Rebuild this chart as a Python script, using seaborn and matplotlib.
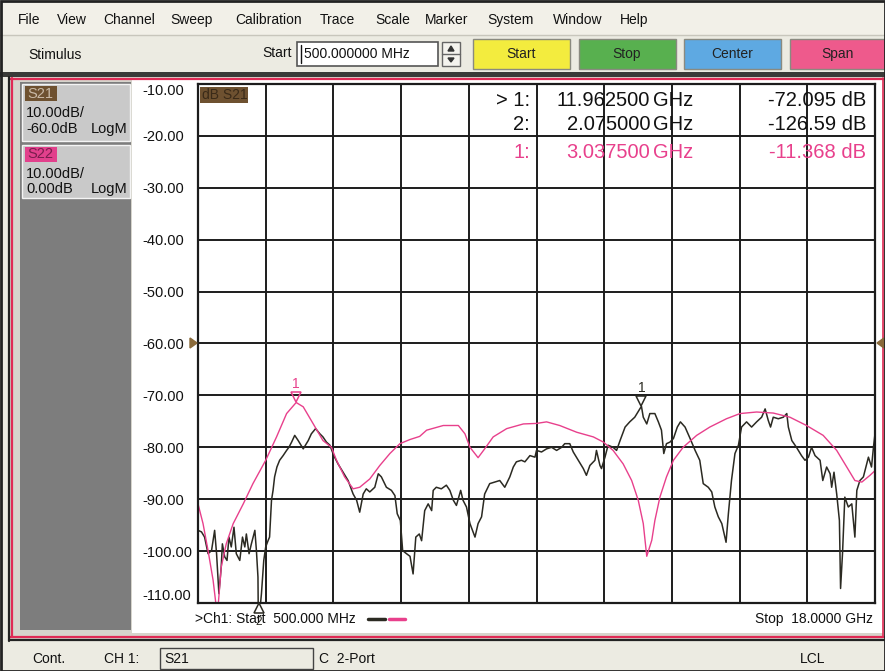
import numpy as np
import pandas as pd
import seaborn as sns
import matplotlib.pyplot as plt
import matplotlib.transforms as mtransforms
from matplotlib.patches import Rectangle, Polygon

# S21 trace (GHz, dB)
s21_freq = [0.50, 0.59, 0.67, 0.76, 0.85, 0.93, 0.98, 1.04, 1.10, 1.13,
            1.19, 1.25, 1.30, 1.36, 1.43, 1.49, 1.58, 1.65, 1.71, 1.75,
            1.82, 1.88, 1.97, 2.01, 2.05, 2.075, 2.10, 2.14, 2.20, 2.25,
            2.31, 2.35, 2.40, 2.44, 2.48, 2.54, 2.61, 2.70, 2.79, 2.85,
            2.92, 3.00, 3.09, 3.22, 3.35, 3.43, 3.54, 3.65, 3.73, 3.82,
            3.91, 4.01, 4.12, 4.25, 4.38, 4.51, 4.60, 4.68, 4.77, 4.85,
            4.94, 5.07, 5.16, 5.24, 5.37, 5.50, 5.59, 5.65, 5.73, 5.79,
            5.89, 5.98, 6.06, 6.13, 6.22, 6.28, 6.36, 6.45, 6.54, 6.58,
            6.66, 6.79, 6.92, 7.01, 7.10, 7.18, 7.29, 7.35, 7.44, 7.53,
            7.66, 7.74, 7.83, 7.91, 8.04, 8.17, 8.30, 8.43, 8.56, 8.65,
            8.73, 8.86, 8.95, 9.08, 9.21, 9.25, 9.38, 9.51, 9.64, 9.77,
            9.90, 9.98, 10.11, 10.20, 10.33, 10.46, 10.54, 10.63, 10.76, 10.80,
            10.89, 10.93, 11.02, 11.10, 11.23, 11.32, 11.41, 11.54, 11.66, 11.79,
            11.9625, 12.01, 12.10, 12.18, 12.31, 12.40, 12.48, 12.54, 12.61, 12.70,
            12.79, 12.89, 12.97, 13.09, 13.22, 13.35, 13.47, 13.56, 13.69, 13.78,
            13.86, 13.95, 14.04, 14.15, 14.21, 14.29, 14.38, 14.47, 14.55, 14.68,
            14.81, 14.94, 15.07, 15.16, 15.24, 15.30, 15.37, 15.50, 15.63, 15.72,
            15.76, 15.85, 15.97, 16.10, 16.19, 16.28, 16.36, 16.45, 16.58, 16.65,
            16.75, 16.84, 16.88, 16.94, 17.01, 17.08, 17.11, 17.16, 17.22, 17.31,
            17.40, 17.48, 17.53, 17.61, 17.70, 17.83, 17.91, 17.96, 18.00]
s21_db = [-96.0, -96.3, -97.3, -100.5, -99.9, -96.0, -100.5, -108.2, -103.1, -98.6,
          -101.1, -101.8, -97.3, -99.2, -95.4, -100.5, -101.8, -97.3, -99.2, -96.7,
          -100.5, -98.6, -96.0, -99.9, -105.0, -126.59, -111.4, -108.2, -101.8, -99.2,
          -98.0, -97.3, -90.2, -88.3, -85.7, -83.8, -82.5, -81.6, -80.6, -80.0,
          -79.0, -77.7, -78.7, -80.3, -78.7, -77.4, -76.4, -77.4, -78.0, -79.0,
          -79.6, -81.6, -83.2, -84.8, -86.4, -89.0, -90.2, -92.5, -89.0, -88.0,
          -88.6, -87.7, -85.1, -85.7, -87.7, -88.3, -89.3, -92.8, -94.1, -99.9,
          -100.5, -101.0, -104.4, -97.3, -96.7, -98.0, -92.2, -90.9, -92.2, -88.3,
          -87.7, -88.0, -87.3, -88.3, -90.2, -91.2, -88.3, -90.2, -91.5, -94.7,
          -97.3, -94.7, -93.4, -89.0, -87.0, -86.7, -86.4, -87.7, -85.7, -83.8,
          -82.8, -82.5, -82.8, -81.6, -81.9, -80.6, -80.9, -80.3, -80.0, -80.6,
          -80.0, -79.3, -79.3, -80.9, -82.5, -84.1, -85.4, -83.5, -82.5, -80.6,
          -83.5, -84.1, -81.9, -79.6, -80.0, -80.6, -78.7, -76.1, -75.1, -74.2,
          -72.095, -74.2, -75.5, -73.5, -73.5, -75.1, -76.7, -81.2, -79.3, -79.0,
          -78.3, -76.1, -75.1, -76.1, -78.3, -80.6, -82.5, -87.0, -87.7, -88.6,
          -91.5, -93.4, -94.7, -98.3, -92.8, -86.4, -81.2, -79.6, -76.1, -75.1,
          -76.1, -75.1, -74.2, -72.6, -74.8, -76.1, -74.2, -74.5, -74.2, -73.5,
          -76.1, -78.7, -80.0, -81.6, -82.5, -81.9, -80.0, -81.6, -82.5, -86.4,
          -83.8, -85.1, -87.7, -84.8, -89.0, -94.1, -107.2, -100.5, -89.6, -91.5,
          -90.9, -97.3, -88.3, -86.4, -85.7, -81.9, -83.8, -80.0, -77.4]

# S22 trace (GHz, dB on its own 0 dB reference)
s22_freq = [0.50, 0.63, 0.76, 0.89, 1.00, 1.10, 1.23, 1.41, 1.67, 1.92,
            2.25, 2.53, 2.79, 3.0375, 3.22, 3.48, 3.73, 3.95, 4.08, 4.29,
            4.51, 4.68, 4.94, 5.20, 5.46, 5.72, 5.98, 6.23, 6.41, 6.84,
            7.23, 7.40, 7.53, 7.74, 7.91, 8.13, 8.48, 8.91, 9.25, 9.51,
            9.85, 10.29, 10.72, 10.98, 11.23, 11.49, 11.71, 11.88, 12.01, 12.10,
            12.23, 12.31, 12.44, 12.61, 12.79, 13.04, 13.39, 13.73, 14.16, 14.51,
            14.94, 15.37, 15.80, 16.23, 16.66, 17.01, 17.27, 17.48, 17.66, 17.87,
            18.00]
s22_db = [-30.9, -34.7, -39.9, -45.6, -52.5, -43.1, -38.6, -34.7, -30.9, -27.0,
          -22.5, -18.0, -13.5, -11.368, -12.2, -15.5, -18.7, -20.0, -22.5, -25.7,
          -28.0, -27.7, -26.1, -23.5, -21.2, -19.3, -18.5, -17.9, -16.7, -15.8,
          -15.8, -17.4, -20.0, -22.0, -20.3, -18.0, -16.4, -15.5, -15.4, -15.1,
          -15.8, -17.1, -18.0, -19.0, -20.6, -23.2, -26.4, -30.2, -34.7, -41.0,
          -37.9, -34.1, -29.6, -25.7, -22.5, -20.0, -17.7, -16.1, -14.5, -13.5,
          -13.2, -13.4, -14.2, -15.8, -17.7, -20.6, -23.8, -26.4, -26.7, -25.4,
          -24.5]

s21_ref = -60.0
s22_ref = 0.0
f_start, f_stop = 0.5, 18.0
y_ticks = [-10, -20, -30, -40, -50, -60, -70, -80, -90, -100, -110]

menu_items = ["File", "View", "Channel", "Sweep", "Calibration", "Trace",
              "Scale", "Marker", "System", "Window", "Help"]
menu_x = [18, 57, 103, 170, 235, 320, 375, 425, 487, 553, 620]
buttons = ["Start", "Stop", "Center", "Span"]
button_colors = ["#f3ec3e", "#58b04f", "#5ea9e2", "#ee5a8c"]

marker_rows = [("> 1:", "11.962500", "-72.095 dB"),
               ("2:", "2.075000", "-126.59 dB"),
               ("1:", "3.037500", "-11.368 dB")]

dark = "#2b2a22"
pink = "#e8408c"
grid_c = "#1c1c1c"

sns.set_theme(style="white")
plt.rcParams['font.family'] = ['Liberation Sans', 'DejaVu Sans']

W, H = 885, 671
fig = plt.figure(figsize=(W / 100, H / 100), dpi=100)
fig.patch.set_facecolor("#ecebe3")

ui = fig.add_axes([0, 0, 1, 1], zorder=0)
ui.set_xlim(0, W)
ui.set_ylim(H, 0)
ui.axis("off")


def box(a, x0, y0, x1, y1, fc, ec="none", lw=0, z=1):
    a.add_patch(Rectangle((x0, y0), x1 - x0, y1 - y0, facecolor=fc,
                          edgecolor=ec, linewidth=lw, zorder=z))


#menu bar and toolbar
box(ui, 0, 0, W, 35, "#f2f0e8")
box(ui, 0, 35, W, 72, "#ecebe2")
ui.plot([0, W], [35, 35], color="#c8c6bc", lw=1)
for name, x in zip(menu_items, menu_x):
    ui.text(x, 20, name, fontsize=10, va="center", ha="left", color="#111")
ui.text(28, 55, "Stimulus", fontsize=10, va="center", color="#111")
ui.text(262, 53, "Start", fontsize=10, va="center", color="#111")
box(ui, 297, 42, 438, 66, "white", "#555", 1.2)
ui.plot([301, 301], [45, 63], color="#111", lw=1)
ui.text(304, 54, "500.000000 MHz", fontsize=10, va="center", color="#111")
box(ui, 442, 42, 460, 66, "#f4f3ee", "#666", 1)
ui.plot([442, 460], [54, 54], color="#666", lw=1)
ui.add_patch(Polygon([[448, 51], [454, 51], [451, 46]], color="#333"))
ui.add_patch(Polygon([[448, 58], [454, 58], [451, 62]], color="#333"))
for i, (name, c) in enumerate(zip(buttons, button_colors)):
    x0 = 473 + i * 105.5
    box(ui, x0, 39, x0 + 97, 69, c, "#8a8a80", 1)
    ui.text(x0 + 48.5, 54, name, fontsize=10, ha="center", va="center", color="#222")

#window frame
box(ui, 0, 72, W, 77, "#3a3a38")
box(ui, 8, 77, W, 641, "#d6d4cc")
box(ui, 132, 80, 883, 633, "white")
ui.plot([10, W], [78.5, 78.5], color="#e02a55", lw=1.6)
ui.plot([12, 12], [78, 637], color="#e02a55", lw=1.6)
ui.plot([10, W], [636.5, 636.5], color="#e02a55", lw=1.6)
ui.plot([883, 883], [78, 637], color="#e02a55", lw=1.2)
ui.plot([9, 9], [77, 641], color="#222", lw=1.6)
ui.plot([9, W], [639.5, 639.5], color="#222", lw=1.6)

#trace panel on the left
box(ui, 20, 82, 131, 630, "#7d7d7d")
box(ui, 22, 84, 130, 141, "#c9c9c9", "#f4f4f4", 1)
box(ui, 22, 145, 130, 198, "#c9c9c9", "#f4f4f4", 1)
box(ui, 25, 86, 57, 101, "#6e5130")
ui.text(27, 93.5, "S21", fontsize=10.5, va="center", color="#c9b9a6")
ui.text(26, 113, "10.00dB/", fontsize=10.5, va="center", color="#111")
ui.text(26, 129, "-60.0dB", fontsize=10.5, va="center", color="#111")
ui.text(128, 129, "LogM", fontsize=10.5, va="center", ha="right", color="#111")
box(ui, 25, 147, 57, 162, "#e2408c")
ui.text(27, 154.5, "S22", fontsize=10.5, va="center", color="#7a1e4e")
ui.text(26, 174, "10.00dB/", fontsize=10.5, va="center", color="#111")
ui.text(26, 189, "0.00dB", fontsize=10.5, va="center", color="#111")
ui.text(128, 189, "LogM", fontsize=10.5, va="center", ha="right", color="#111")

#status bar
box(ui, 0, 641, W, H, "#ecebe2")
ui.text(32, 659, "Cont.", fontsize=10, va="center", color="#111")
ui.text(104, 659, "CH 1:", fontsize=10, va="center", color="#111")
box(ui, 160, 648, 313, 669, "#ecebe2", "#444", 1)
ui.text(164, 659, "S21", fontsize=10, va="center", color="#111")
ui.text(319, 659, "C  2-Port", fontsize=10, va="center", color="#111")
ui.text(800, 659, "LCL", fontsize=10, va="center", color="#111")

#plot area
x0, x1, y0, y1 = 198, 875, 84, 603
ax = fig.add_axes([x0 / W, (H - y1) / H, (x1 - x0) / W, (y1 - y0) / H], zorder=2)
s21_df = pd.DataFrame({"freq": s21_freq, "db": s21_db})
s22_df = pd.DataFrame({"freq": s22_freq,
                       "db": np.array(s22_db) + (s21_ref - s22_ref)})
sns.lineplot(data=s21_df, x="freq", y="db", ax=ax, color=dark, lw=1.1,
             estimator=None, sort=False)
sns.lineplot(data=s22_df, x="freq", y="db", ax=ax, color=pink, lw=1.0,
             estimator=None, sort=False)
ax.set_xlim(f_start, f_stop)
ax.set_ylim(-110, -10)
ax.set_xticks(np.linspace(f_start, f_stop, 11))
ax.set_xticklabels([])
ax.set_yticks(y_ticks)
ax.set_yticklabels([f"{v:.2f}" for v in y_ticks])
ax.tick_params(axis="both", length=0)
ax.tick_params(axis="y", pad=40, labelsize=10.5, labelcolor="#111")
for lab in ax.get_yticklabels():
    lab.set_horizontalalignment("left")
ax.get_yticklabels()[0].set_verticalalignment("top")
ax.get_yticklabels()[-1].set_verticalalignment("bottom")
ax.set_xlabel("")
ax.set_ylabel("")
ax.set_facecolor("white")
ax.grid(True, color=grid_c, lw=1.4)
for sp in ax.spines.values():
    sp.set_color(grid_c)
    sp.set_linewidth(1.6)

#markers
ax.plot(3.0375, -71.368 + 1.0, marker="v", ms=7, mfc="none", mec=pink, mew=1.1)
ax.annotate("1", (3.0375, -71.368), xytext=(0, 8), textcoords="offset points",
            ha="center", va="bottom", fontsize=10, color=pink)
ax.plot(11.9625, -72.095 + 1.0, marker="v", ms=7, mfc="none", mec=dark, mew=1.1)
ax.annotate("1", (11.9625, -72.095), xytext=(0, 8), textcoords="offset points",
            ha="center", va="bottom", fontsize=10, color=dark)
blend = mtransforms.blended_transform_factory(ax.transData, ax.transAxes)
ax.plot(2.075, -0.01, marker="^", ms=7, mfc="white", mec=dark, mew=1.1,
        transform=blend, clip_on=False, zorder=6)
ax.text(2.075, -0.026, "2", transform=blend, ha="center", va="top",
        fontsize=8.5, color=dark, zorder=6)

#overlay texts on top of the plot
top = fig.add_axes([0, 0, 1, 1], zorder=5)
top.set_xlim(0, W)
top.set_ylim(H, 0)
top.axis("off")
top.patch.set_alpha(0)
box(top, 200, 87, 248, 103, "#6e5130")
top.text(202, 95, "dB S21", fontsize=10, va="center", color="#3a2a18")
row_y = [100, 124, 152]
row_c = ["#111", "#111", pink]
for (lab, fr, val), yy, c in zip(marker_rows, row_y, row_c):
    top.text(530, yy, lab, fontsize=14.5, ha="right", va="center", color=c)
    top.text(650, yy, fr, fontsize=14.5, ha="right", va="center", color=c)
    top.text(653, yy, "GHz", fontsize=14.5, ha="left", va="center", color=c)
    top.text(866, yy, val, fontsize=14.5, ha="right", va="center", color=c)

top.text(195, 619, ">Ch1: Start  500.000 MHz", fontsize=10, va="center", color="#111")
top.plot([368, 385], [619, 619], color=dark, lw=2.5)
top.plot([389, 405], [619, 619], color=pink, lw=2.5)
top.text(873, 619, "Stop  18.0000 GHz", fontsize=10, va="center", ha="right", color="#111")
top.add_patch(Polygon([[190, 338], [190, 348], [197, 343]], color="#8a6a3a"))
top.add_patch(Polygon([[884, 338], [884, 348], [877, 343]], color="#8a6a3a"))
top.add_patch(Rectangle((0.5, 0.5), W - 1, H - 1, fill=False, edgecolor="#222", lw=2))

plt.savefig("out.png", dpi=100)
